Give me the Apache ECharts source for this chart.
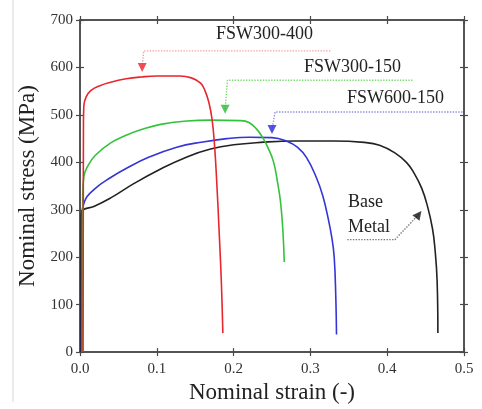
<!DOCTYPE html>
<html>
<head>
<meta charset="utf-8">
<script src="https://cdn.jsdelivr.net/npm/echarts@6/dist/echarts.min.js"></script>
<style>
  html, body { margin: 0; padding: 0; background: #fff; }
  #chart { width: 482px; height: 409px; }
</style>
</head>
<body>
<div id="chart"></div>
<script>
// ---- data (strain, MPa) ----
var xTicks = [0, 0.1, 0.2, 0.3, 0.4, 0.5];
var yTicks = [0, 100, 200, 300, 400, 500, 600, 700];

var redStrain   = [0.004, 0.0045, 0.005, 0.008, 0.014, 0.025, 0.04, 0.06, 0.08, 0.10, 0.13, 0.145, 0.157, 0.163, 0.168, 0.172, 0.175, 0.178, 0.181, 0.184, 0.186];
var redStress   = [0, 480, 519, 538, 551, 561, 569, 576, 580, 582, 582, 578, 567, 550, 525, 490, 440, 360, 260, 150, 40];

var greenStrain = [0.003, 0.0035, 0.005, 0.01, 0.02, 0.04, 0.06, 0.08, 0.105, 0.139, 0.17, 0.209, 0.22, 0.23, 0.238, 0.245, 0.252, 0.257, 0.261, 0.264, 0.266];
var greenStress = [0, 330, 370, 392, 415, 441, 457, 469, 480, 487, 489, 488, 484, 470, 452, 430, 401, 360, 318, 260, 190];

var blueStrain  = [0.002, 0.0025, 0.006, 0.02, 0.04, 0.06, 0.09, 0.126, 0.16, 0.191, 0.22, 0.25, 0.27, 0.283, 0.295, 0.308, 0.316, 0.323, 0.328, 0.331, 0.333, 0.334];
var blueStress  = [0, 280, 318, 345, 368, 387, 411, 432, 443, 450, 453, 452, 444, 432, 410, 367, 330, 283, 240, 200, 120, 37];

var baseStrain  = [0.001, 0.0015, 0.004, 0.018, 0.04, 0.07, 0.105, 0.14, 0.17, 0.2, 0.235, 0.28, 0.33, 0.37, 0.39, 0.41, 0.425, 0.434, 0.445, 0.453, 0.459, 0.462, 0.465, 0.466];
var baseStress  = [0, 290, 300, 307, 325, 355, 386, 412, 428, 437, 442, 445, 445, 442, 436, 420, 400, 380, 345, 304, 260, 221, 150, 40];

// annotation leaders, in data units
var redLeader   = [[0.326, 635], [0.083, 635], [0.081, 600]];
var greenLeader = [[0.433, 573], [0.192, 573], [0.189, 512]];
var blueLeader  = [[0.498, 506], [0.254, 506], [0.250, 469]];
var baseLeader  = [[0.348, 237], [0.410, 237], [0.441, 290]];

function zip(xs, ys) {
  var out = [];
  for (var i = 0; i < xs.length; i++) out.push([xs[i], ys[i]]);
  return out;
}

var serif = '"Liberation Serif", "DejaVu Serif", serif';
var axisCol = '#4a4a4a';

function curve(name, xs, ys, color) {
  return {
    name: name, type: 'line', data: zip(xs, ys),
    smooth: 0.45, showSymbol: false, symbol: 'none',
    lineStyle: { color: color, width: 1.6 }, z: 3
  };
}

function leader(pts, color, headColor, rot) {
  return [{
    type: 'line', data: pts, showSymbol: false, symbol: 'none',
    lineStyle: { color: color, width: 1.4, type: 'dotted' }, z: 2
  }, {
    type: 'scatter', data: [pts[pts.length - 1]], symbol: 'triangle',
    symbolSize: [9, 9], symbolRotate: rot,
    itemStyle: { color: headColor }, z: 4
  }];
}

var chart = echarts.init(document.getElementById('chart'));

var baseX = {
  type: 'value', min: 0, max: 0.5, interval: 0.1,
  splitLine: { show: false },
  axisLine: { onZero: false, lineStyle: { color: axisCol, width: 1.5 } },
  axisTick: { length: 4, lineStyle: { color: axisCol, width: 1.2 } }
};
var baseY = {
  type: 'value', min: 0, max: 700, interval: 100,
  splitLine: { show: false },
  axisLine: { onZero: false, lineStyle: { color: axisCol, width: 1.5 } },
  axisTick: { length: 4, lineStyle: { color: axisCol, width: 1.2 } }
};

var option = {
  animation: false,
  backgroundColor: '#fff',
  grid: { left: 80, right: 18, top: 20, bottom: 53 },
  xAxis: [
    Object.assign({}, baseX, {
      position: 'bottom',
      name: 'Nominal strain (-)', nameLocation: 'middle', nameGap: 19,
      nameTextStyle: { fontFamily: serif, fontSize: 23, color: '#222' },
      axisLabel: { margin: 9, fontFamily: serif, fontSize: 15, color: '#333',
        formatter: function (v) { return v.toFixed(1); } }
    }),
    Object.assign({}, baseX, { position: 'bottom', axisLabel: { show: false }, axisTick: Object.assign({}, baseX.axisTick, { inside: true }) }),
    Object.assign({}, baseX, { position: 'top', axisLabel: { show: false } }),
    Object.assign({}, baseX, { position: 'top', axisLabel: { show: false }, axisTick: Object.assign({}, baseX.axisTick, { inside: true }) })
  ],
  yAxis: [
    Object.assign({}, baseY, {
      position: 'left',
      name: 'Nominal stress (MPa)', nameLocation: 'middle', nameGap: 40,
      nameTextStyle: { fontFamily: serif, fontSize: 23, color: '#222' },
      axisLabel: { margin: 7, fontFamily: serif, fontSize: 15, color: '#333' }
    }),
    Object.assign({}, baseY, { position: 'left', axisLabel: { show: false }, axisTick: Object.assign({}, baseY.axisTick, { inside: true }) }),
    Object.assign({}, baseY, { position: 'right', axisLabel: { show: false } }),
    Object.assign({}, baseY, { position: 'right', axisLabel: { show: false }, axisTick: Object.assign({}, baseY.axisTick, { inside: true }) })
  ],
  series: [
    curve('Base Metal', baseStrain, baseStress, '#222222'),
    curve('FSW600-150', blueStrain, blueStress, '#3434d8'),
    curve('FSW300-150', greenStrain, greenStress, '#33c33a'),
    curve('FSW300-400', redStrain, redStress, '#e8262e')
  ].concat(
    leader(redLeader, '#f3a0a6', '#e8262e', 180),
    leader(greenLeader, '#7bdc70', '#2fb836', 180),
    leader(blueLeader, '#8d8de6', '#2a2ad8', 180),
    leader(baseLeader, '#777777', '#111111', -38)
  ),
  graphic: [
    { type: 'line', shape: { x1: 13, y1: 0, x2: 13, y2: 402 }, style: { stroke: '#d8d8d8', lineWidth: 1 } },
    { type: 'text', left: 216, top: 25, style: { text: 'FSW300-400', font: '18px ' + serif, fill: '#222' } },
    { type: 'text', left: 304, top: 58, style: { text: 'FSW300-150', font: '18px ' + serif, fill: '#222' } },
    { type: 'text', left: 347, top: 89, style: { text: 'FSW600-150', font: '18px ' + serif, fill: '#222' } },
    { type: 'text', left: 348, top: 193, style: { text: 'Base', font: '18px ' + serif, fill: '#222' } },
    { type: 'text', left: 348, top: 218, style: { text: 'Metal', font: '18px ' + serif, fill: '#222' } }
  ]
};

chart.setOption(option);
</script>
</body>
</html>
